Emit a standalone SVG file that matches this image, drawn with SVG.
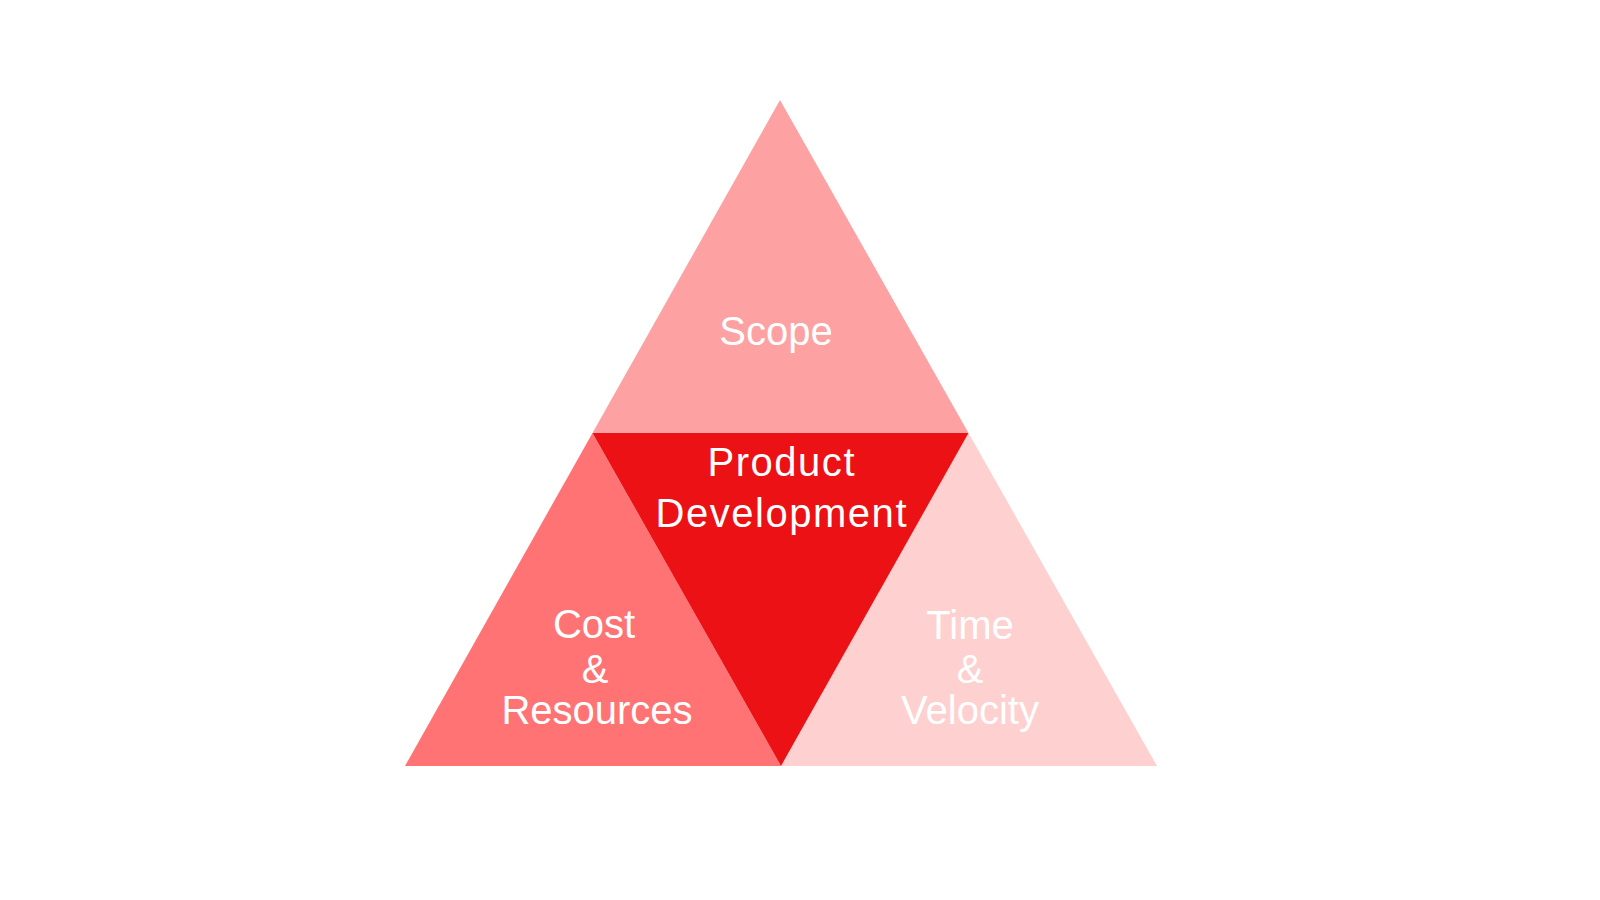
<svg xmlns="http://www.w3.org/2000/svg" width="1600" height="900" viewBox="0 0 1600 900">
  <style>
    .lbl { font-family: "Liberation Sans", Arial, sans-serif; font-size: 40px; fill: #ffffff; text-anchor: middle; }
  </style>
  <rect x="0" y="0" width="1600" height="900" fill="#ffffff"/>
  <g id="scope">
    <polygon points="780,100 968.5,433 592.5,433" fill="#FDA1A3"/>
    <text class="lbl" x="776" y="345">Scope</text>
  </g>
  <g id="cost-resources">
    <polygon points="592.5,433 781,766 405,766" fill="#FF7375"/>
    <text class="lbl" x="594" y="638">Cost</text>
    <text class="lbl" x="595" y="683">&amp;</text>
    <text class="lbl" x="597" y="724">Resources</text>
  </g>
  <g id="time-velocity">
    <polygon points="968.5,433 1157,766 781,766" fill="#FFD0D0"/>
    <text class="lbl" x="970" y="639">Time</text>
    <text class="lbl" x="970" y="683">&amp;</text>
    <text class="lbl" x="970" y="724">Velocity</text>
  </g>
  <g id="product-development">
    <polygon points="592.5,433 968.5,433 781,766" fill="#EC1115"/>
    <text class="lbl" x="781" y="476" textLength="147" lengthAdjust="spacing">Product</text>
    <text class="lbl" x="781" y="527" textLength="251" lengthAdjust="spacing">Development</text>
  </g>
</svg>
